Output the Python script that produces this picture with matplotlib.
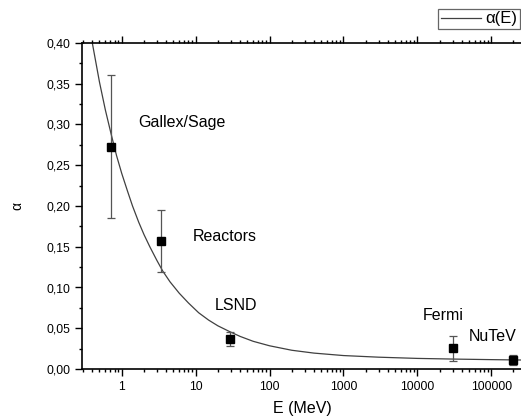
import matplotlib
matplotlib.use("Agg")
import matplotlib.pyplot as plt
from matplotlib.ticker import FuncFormatter, LogLocator, MultipleLocator, NullFormatter

plt.rcParams['font.family'] = ['Liberation Sans', 'DejaVu Sans']

# Кривая alpha(E), точки
curve_E = [0.40, 0.50, 0.60, 0.72, 0.85, 1.0, 1.2, 1.4, 1.7, 2.0, 2.4, 3.0, 3.6,
           4.5, 6.0, 8.0, 11, 15, 20, 29, 40, 60, 100, 200, 400, 1000, 3000,
           10000, 30000, 100000, 270000]
curve_alpha = [0.400, 0.352, 0.318, 0.288, 0.262, 0.240, 0.218, 0.200, 0.180,
               0.165, 0.150, 0.133, 0.120, 0.107, 0.093, 0.081, 0.069, 0.060,
               0.053, 0.0458, 0.040, 0.034, 0.0285, 0.023, 0.0195, 0.0165,
               0.0145, 0.013, 0.0122, 0.0115, 0.011]

# Экспериментальные точки
exp_names = ["Gallex/Sage", "Reactors", "LSND", "Fermi", "NuTeV"]
exp_E = [0.72, 3.45, 29, 30000, 200000]
exp_alpha = [0.273, 0.157, 0.0368, 0.0254, 0.0107]
exp_err = [0.088, 0.038, 0.008, 0.0155, 0.0062]

# Положения подписей (E, alpha)
label_E = [1.66, 9.1, 18.3, 11700, 50400]
label_alpha = [0.302, 0.163, 0.0785, 0.066, 0.0396]

W, H = 521, 419
fig = plt.figure(figsize=(W / 100, H / 100), dpi=100)
ax = fig.add_axes([82 / W, (H - 369) / H, (523 - 82) / W, (369 - 43) / H])

ax.plot(curve_E, curve_alpha, color='#404040', linewidth=0.9, label="α(E)")
ax.errorbar(exp_E, exp_alpha, yerr=exp_err, fmt='s', color='black', markersize=6,
            ecolor='#555555', elinewidth=0.9, capsize=3, capthick=0.9)

for name, xe, ya in zip(exp_names, label_E, label_alpha):
    ax.text(xe, ya, name, fontsize=11.5, ha='left', va='center')

ax.set_xscale('log')
ax.set_xlim(0.29, 10 ** ((523 - 121.7) / 73.9))
ax.set_ylim(0, 0.40)

ax.yaxis.set_major_locator(MultipleLocator(0.05))
ax.yaxis.set_minor_locator(MultipleLocator(0.025))
ax.yaxis.set_major_formatter(FuncFormatter(lambda v, _: f"{v:.2f}".replace('.', ',')))
ax.xaxis.set_major_locator(LogLocator(base=10))
ax.xaxis.set_minor_locator(LogLocator(base=10, subs=range(2, 10)))
ax.xaxis.set_major_formatter(FuncFormatter(lambda v, _: f"{v:g}"))
ax.xaxis.set_minor_formatter(NullFormatter())

ax.tick_params(which='both', direction='out', top=True, right=False,
               labelsize=8.8, width=1)
ax.tick_params(which='major', length=5)
ax.tick_params(which='minor', length=2.5)
ax.spines['right'].set_visible(False)
for s in ['left', 'bottom', 'top']:
    ax.spines[s].set_linewidth(1.2)

ax.set_xlabel("E (MeV)", fontsize=11.5, labelpad=6)
ax.set_ylabel("α", fontsize=10, labelpad=16)

leg = ax.legend(loc='upper right', bbox_to_anchor=(520 / W, (H - 9) / H),
                bbox_transform=fig.transFigure, fontsize=12, frameon=True,
                fancybox=False, borderaxespad=0, handlelength=2.4,
                borderpad=0.15, handletextpad=0.3)
leg.get_frame().set_edgecolor('#404040')
leg.get_frame().set_linewidth(0.9)

fig.savefig("out.png", dpi=100)
